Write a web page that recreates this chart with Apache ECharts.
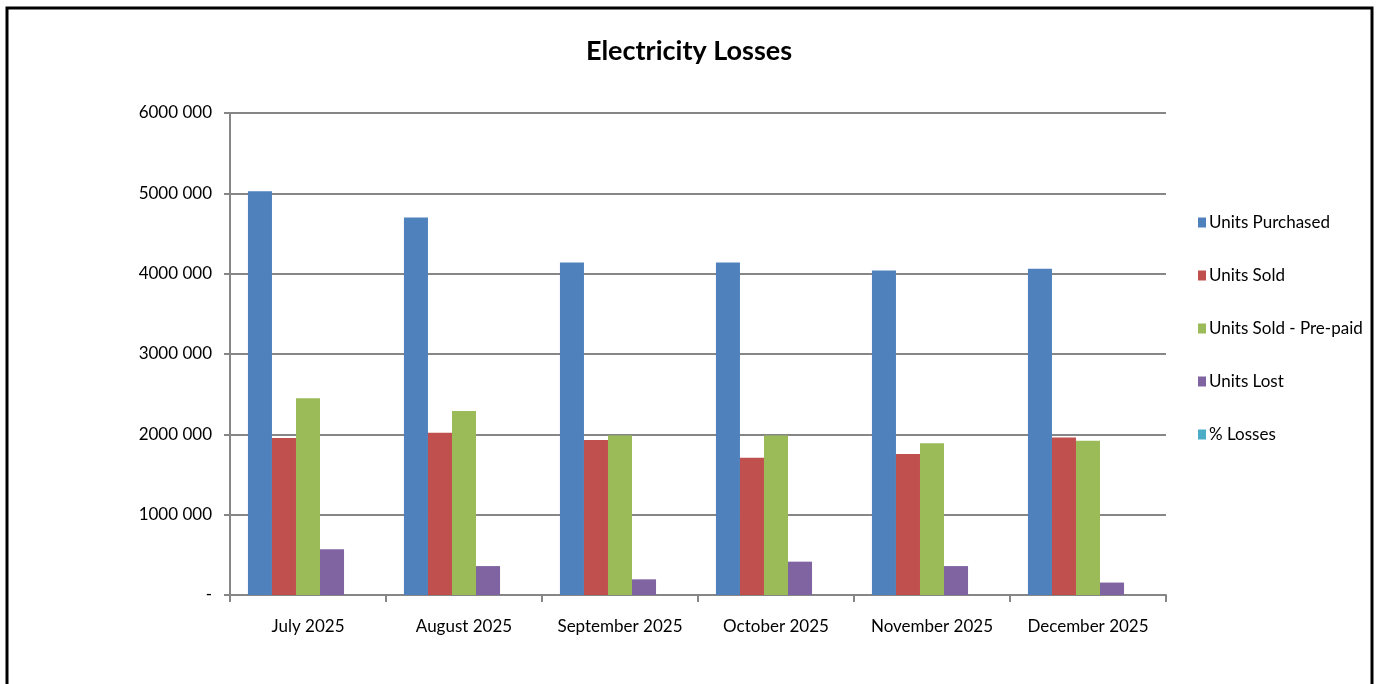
<!DOCTYPE html>
<html>
<head>
<meta charset="utf-8">
<title>Electricity Losses</title>
<script src="https://cdn.jsdelivr.net/npm/echarts@6/dist/echarts.min.js"></script>
<style>
  html, body { margin: 0; padding: 0; background: #fff; }
  #chart { width: 1378px; height: 684px; }
</style>
</head>
<body>
<div id="chart"></div>
<script>
// months on the x axis
const months = ['July 2025', 'August 2025', 'September 2025', 'October 2025', 'November 2025', 'December 2025']
// units
const unitsPurchased = [5025000, 4700000, 4140000, 4140000, 4040000, 4060000]
const unitsSold = [1955000, 2020000, 1930000, 1710000, 1755000, 1960000]
const unitsSoldPrepaid = [2450000, 2290000, 1985000, 1985000, 1890000, 1920000]
const unitsLost = [570000, 360000, 195000, 415000, 360000, 155000]
// percentage, too small to show on this scale
const pctLosses = [11.3, 7.7, 4.7, 10.0, 8.9, 3.8]

const seriesNames = ['Units Purchased', 'Units Sold', 'Units Sold - Pre-paid', 'Units Lost', '% Losses']
const colors = ['#4f81bd', '#c0504d', '#9bbb59', '#8064a2', '#4bacc6']
const font = 'Lato, "Noto Sans", sans-serif'

const chart = echarts.init(document.getElementById('chart'))

const options = {
  backgroundColor: '#fff',
  animation: false,
  color: colors,
  title: {
    text: 'Electricity Losses',
    left: 'center',
    top: 33,
    textStyle: { fontFamily: font, fontSize: 27, fontWeight: 'bold', color: '#000' }
  },
  legend: {
    orient: 'vertical',
    left: 1193,
    top: 209,
    itemGap: 36,
    itemWidth: 8,
    itemHeight: 10,
    icon: 'rect',
    textStyle: { fontFamily: font, fontSize: 17, color: '#000', padding: [0, 0, 0, -2] },
    data: seriesNames
  },
  grid: { left: 230, right: 212, top: 113, bottom: 89 },
  xAxis: {
    type: 'category',
    data: months,
    axisLine: { lineStyle: { color: '#868686', width: 2 } },
    axisTick: { show: true, length: 7, lineStyle: { color: '#868686', width: 2 } },
    axisLabel: { fontFamily: font, fontSize: 17, color: '#000', margin: 23, interval: 0 }
  },
  yAxis: {
    type: 'value',
    min: 0,
    max: 6000000,
    interval: 1000000,
    axisLine: { show: true, lineStyle: { color: '#868686', width: 2 } },
    axisTick: { show: true, length: 6, lineStyle: { color: '#868686', width: 2 } },
    splitLine: { lineStyle: { color: '#868686', width: 2 } },
    axisLabel: {
      fontFamily: font,
      fontSize: 17,
      color: '#000',
      margin: 18,
      formatter: v => v === 0 ? '-' : Math.floor(v / 1000) + ' 000'
    }
  },
  series: [unitsPurchased, unitsSold, unitsSoldPrepaid, unitsLost, pctLosses].map((d, i) => ({
    name: seriesNames[i],
    type: 'bar',
    data: d,
    barGap: '0%',
    barCategoryGap: '23%'
  })),
  graphic: [
    { type: 'polyline', shape: { points: [[7, 684], [7, 8], [1372, 8], [1372, 684]] }, style: { stroke: '#000', lineWidth: 3, fill: null } }
  ]
}

chart.setOption(options)
</script>
</body>
</html>
